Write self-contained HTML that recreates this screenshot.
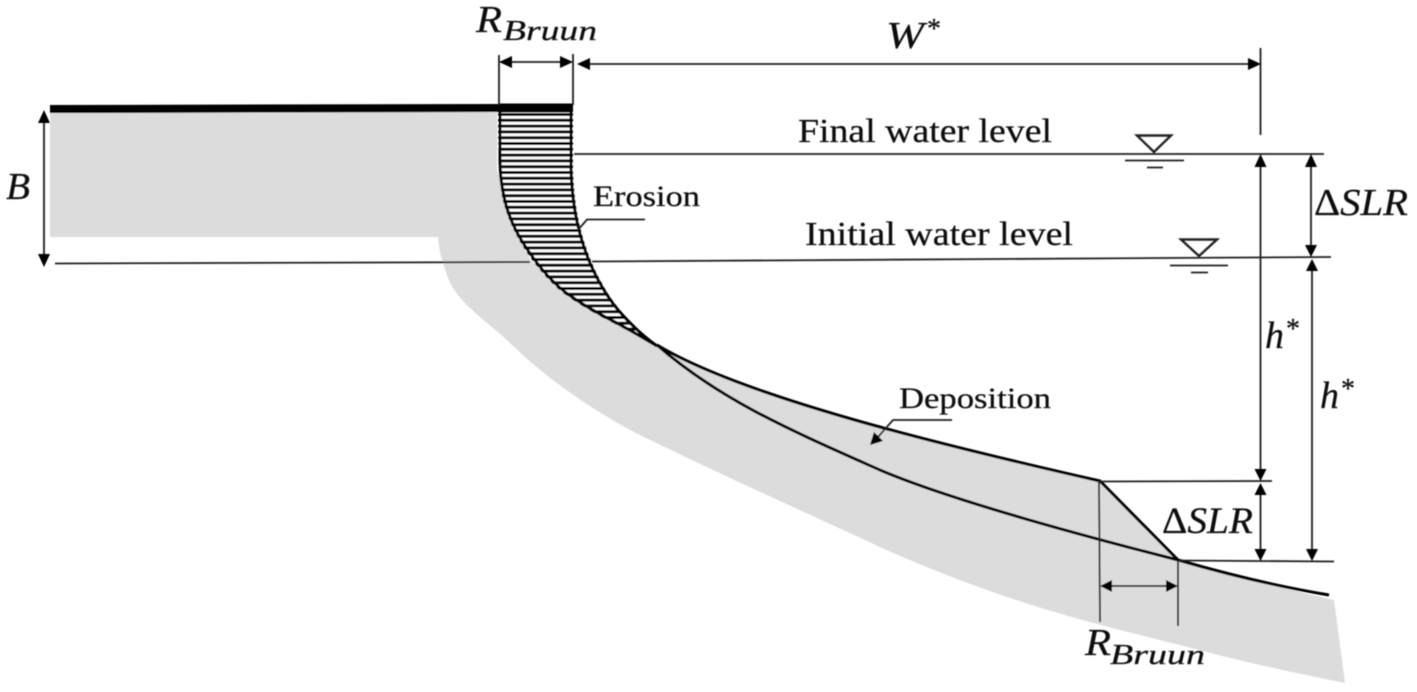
<!DOCTYPE html>
<html><head><meta charset="utf-8"><style>
html,body{margin:0;padding:0;background:#fff}
svg{display:block}
text{font-family:"Liberation Serif",serif;fill:#111;stroke:#111;stroke-width:.25}
.i{font-style:italic}
.l{stroke:#222;stroke-width:1.8;fill:none}
.p{stroke:#000;stroke-width:3;fill:none;stroke-linejoin:round}
</style></head><body>
<svg width="1417" height="692" viewBox="0 0 1417 692" xmlns="http://www.w3.org/2000/svg">
<defs>
<clipPath id="ero"><path d="M498,108 L573,108 L573,170 C574,200 578,225 587,250 C593,268 605,292 620,310 C632,324 645,336 657,346 C640,337 628,331 613,323 C595,314 578,304 563,293 C548,281 535,265 525,250 C514,233 506,215 502,197 C499,180 498,150 498,108Z"/></clipPath>
<filter id="b" x="0" y="0" width="100%" height="100%"><feGaussianBlur stdDeviation="0.5"/></filter>
</defs>
<g filter="url(#b)">
<path fill="#dcdcdc" d="M50,112 L497,112 L497,170 L530,260 L657,345 C745,398 950,447 1100,481 L1178,560 C1230,575 1280,587 1334,600 L1345,683 C1290,672 1235,660 1180,645 C1100,625 1010,605 880,547 C800,510 700,465 630,430 C590,408 545,378 507,340 C480,316 455,300 447,275 C441,258 439,250 438,237 L50,237 Z"/>
<path d="M55,263.500 L530,262" class="l"/>
<path d="M592,261.500 L1331,257" class="l"/>
<path d="M574,154 L1324,154" class="l"/>
<g clip-path="url(#ero)">
<path fill="#fff" d="M490,105H690V350H490Z"/>
<path d="M580,113V350" stroke="#000" stroke-width="200" stroke-dasharray="3 2.8" fill="none"/>
</g>
<path d="M50,109 L498,108" stroke="#000" stroke-width="8" fill="none"/>
<path d="M498,103.500H573V112.500H498Z" fill="#000"/>
<path class="p" stroke-width="4" d="M500,108 L500,150 C500,178 501,180 504,197 C508,215 516,233 527,249 C537,264 550,280 565,292 C580,303 597,313 615,322 C630,330 642,337 657,346"/>
<path class="p" stroke-width="4" d="M571,108 L571,170 C572,200 576,225 585,250 C591,268 603,292 618,310 C630,324 643,336 657,346"/>
<path class="p" stroke-width="2.800" d="M657,345 C720,400 790,430 880,470 C950,500 1080,535 1178,560 C1230,575 1280,587 1329,595"/>
<path class="p" stroke-width="2.800" d="M657,345 C745,398 950,447 1100,481 L1178,560"/>
<path class="l" d="M499,55V105M573,54V105M1260.500,48V135M1099,481L1100,622M1178,560V626"/>
<path class="l" d="M1100,481.500L1272,481M1178,560.500L1334,561.500"/>
<path class="l" d="M505,62H566M582,64H1255M44,118V260M1260.500,162V474M1260.500,488V554M1311,162V250M1312,266V554M1106,586H1172"/>
<g fill="#000">
<path d="M499,62l13,-6v12zM573,62l-13,-6v12z"/>
<path d="M577,64l13,-6v12zM1261,64l-13,-6v12z"/>
<path d="M44,110l-6,13h12zM44,267l-6,-13h12z"/>
<path d="M1260.500,154l-6,13h12zM1260.500,481l-6,-12h12zM1260.500,483l-6,12h12zM1260.500,561l-6,-12h12z"/>
<path d="M1311,154l-6,13h12zM1311,257l-6,-12h12zM1312,259l-6,12h12zM1312,561l-6,-12h12z"/>
<path d="M1100,586l12,-6v12zM1178,586l-12,-6v12z"/>
</g>
<g class="l" stroke-width="2">
<path d="M1137,135.500H1171L1154,152Z" stroke-width="2.400"/>
<path d="M1125,160.500H1184M1147,167.500H1163"/>
<path d="M1181,239.500H1217L1199,256Z" stroke-width="2.400"/>
<path d="M1170,265.500H1228M1191,272.500H1208"/>
<path d="M578,230L587,219.500H645"/>
<path d="M878,437L893,420H952"/>
</g>
<path d="M870,445l4,-13l9,9z" fill="#000"/>
<text x="476" y="32" font-size="38" class="i" textLength="26" lengthAdjust="spacingAndGlyphs">R</text>
<text x="503" y="40" font-size="29" class="i" textLength="94" lengthAdjust="spacingAndGlyphs">Bruun</text>
<text x="886" y="48" font-size="38" class="i" textLength="38" lengthAdjust="spacingAndGlyphs">W</text>
<text x="927" y="38" font-size="28">*</text>
<text x="6" y="199" font-size="38" class="i" textLength="24" lengthAdjust="spacingAndGlyphs">B</text>
<text x="1314" y="215" font-size="38" textLength="94" lengthAdjust="spacingAndGlyphs">Δ<tspan class="i">SLR</tspan></text>
<text x="1265" y="348" font-size="38" class="i">h</text>
<text x="1286" y="338" font-size="28">*</text>
<text x="1320" y="408" font-size="38" class="i">h</text>
<text x="1341" y="398" font-size="28">*</text>
<text x="1162" y="533" font-size="37" textLength="91" lengthAdjust="spacingAndGlyphs">Δ<tspan class="i">SLR</tspan></text>
<text x="1085" y="655" font-size="38" class="i" textLength="26" lengthAdjust="spacingAndGlyphs">R</text>
<text x="1110" y="664" font-size="29" class="i" textLength="95" lengthAdjust="spacingAndGlyphs">Bruun</text>
<text x="798" y="142" font-size="34" textLength="254" lengthAdjust="spacingAndGlyphs">Final water level</text>
<text x="805" y="245" font-size="34" textLength="268" lengthAdjust="spacingAndGlyphs">Initial water level</text>
<text x="593" y="206" font-size="30" textLength="107" lengthAdjust="spacingAndGlyphs">Erosion</text>
<text x="899" y="408" font-size="30" textLength="152" lengthAdjust="spacingAndGlyphs">Deposition</text>
</g>
</svg>
</body></html>
